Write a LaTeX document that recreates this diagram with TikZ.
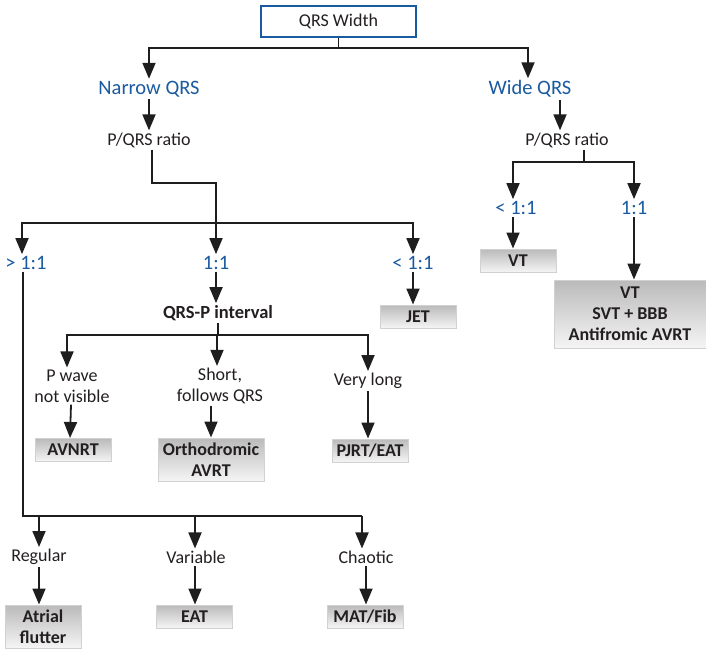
\documentclass[tikz,border=0pt]{standalone}
\usepackage{fontspec}
\setmainfont{Carlito}
\usepackage{xcolor}
\usetikzlibrary{arrows.meta}

\definecolor{qrsblue}{RGB}{26,90,160}
\definecolor{txtgray}{RGB}{35,31,32}
\definecolor{linegray}{RGB}{30,30,30}

\begin{document}
\begin{tikzpicture}[x=1pt, y=-1pt,
		topnode/.style={rectangle, draw=qrsblue, line width=2pt, minimum width=155pt, minimum height=31pt, font=\fontsize{18}{21}\selectfont, text=txtgray},
		bluenode/.style={font=\fontsize{20.5}{24}\selectfont, text=qrsblue, inner sep=2pt},
		plainnode/.style={font=\fontsize{18}{21}\selectfont, text=txtgray, align=center, inner sep=2pt},
		headnode/.style={plainnode, font=\fontsize{18.5}{21}\selectfont\bfseries},
		resnode/.style={rectangle, draw=black!18, line width=1pt, top color=black!27, bottom color=black!4, minimum width=76pt, minimum height=23pt, inner sep=0pt, align=center, font=\fontsize{18}{21}\selectfont\bfseries, text=txtgray},
		plainline/.style={line width=1.8pt, draw=linegray},
		arrline/.style={plainline, -{Triangle[width=13pt,length=16pt]}},
	]
		\useasboundingbox (0,0) rectangle (706,648);

		% nodes
		\node[topnode] (qrswidth) at (338.5,21.5) {QRS Width};
		\node[bluenode] (narrow) at (149,89) {Narrow QRS};
		\node[bluenode] (wide) at (530,89) {Wide QRS};
		\node[plainnode] (ratioN) at (149,140) {P/QRS ratio};
		\node[plainnode] (ratioW) at (567,140) {P/QRS ratio};

		\node[bluenode] (ltW) at (516,208) {< 1:1};
		\node[bluenode] (eqW) at (634,208) {1:1};
		\node[resnode] (vt) at (518,260.5) {VT};
		\node[resnode, minimum width=152pt, minimum height=68pt] (vtlist) at (630,314) {VT\\SVT + BBB\\Antifromic AVRT};

		\node[bluenode] (gtN) at (26,263) {> 1:1};
		\node[bluenode] (eqN) at (216,263) {1:1};
		\node[bluenode] (ltN) at (413,263) {< 1:1};
		\node[headnode] (qrsp) at (218,313) {QRS-P interval};
		\node[resnode] (jet) at (418,316.5) {JET};

		\node[plainnode] (pwave) at (72,386) {P wave\\not visible};
		\node[plainnode] (short) at (220,386) {Short,\\follows QRS};
		\node[plainnode] (vlong) at (368,381) {Very long};
		\node[resnode] (avnrt) at (73,450) {AVNRT};
		\node[resnode, minimum width=106pt, minimum height=43pt] (ortho) at (211,459.5) {Orthodromic\\AVRT};
		\node[resnode] (pjrt) at (370,450.5) {PJRT/EAT};

		\node[plainnode] (regular) at (39,557) {Regular};
		\node[plainnode] (variable) at (196,557) {Variable};
		\node[plainnode] (chaotic) at (366,557) {Chaotic};
		\node[resnode, minimum height=43pt] (atrial) at (43,626.5) {Atrial\\flutter};
		\node[resnode] (eat) at (194.5,616.5) {EAT};
		\node[resnode] (matfib) at (365,616.5) {MAT/Fib};

		% lines
		\draw[plainline] (qrswidth.south) -- ++(0,10) coordinate (splitT);
		\draw[arrline] (splitT) -| (narrow.north);
		\draw[arrline] (splitT) -| ([xshift=-2pt]wide.north);
		\draw[arrline] (narrow.south) -- (ratioN.north);
		\draw[arrline] ([xshift=30pt]wide.south) -- ([xshift=-7pt]ratioW.north);

		\draw[plainline] ([xshift=17pt]ratioW.south) -- ++(0,12) coordinate (splitW);
		\draw[arrline] (splitW) -| ([xshift=-3pt]ltW.north);
		\draw[arrline] (splitW) -| (eqW.north);
		\draw[arrline] ([xshift=-3pt]ltW.south) -- ([xshift=-5pt]vt.north);
		\draw[arrline] (eqW.south) -- ([xshift=4pt]vtlist.north);

		\draw[arrline] ([xshift=3pt]ratioN.south) -- ++(0,33) -| (eqN.north);
		\coordinate (splitN) at (eqN.north |- 0,223);
		\draw[arrline] (splitN) -| ([xshift=-4pt]gtN.north);
		\draw[arrline] (splitN) -| (ltN.north);
		\draw[arrline] (eqN.south) -- (eqN.south |- qrsp.north);
		\draw[arrline] (ltN.south) -- (ltN.south |- jet.north);

		\draw[plainline] (qrsp.south) -- (qrsp.south |- 0,335) coordinate (splitQ);
		\draw[arrline] (splitQ) -| ([xshift=-5pt]pwave.north);
		\draw[arrline] (splitQ) -| ([xshift=-3pt]short.north);
		\draw[arrline] (splitQ) -| (vlong.north);
		\draw[arrline] ([xshift=-1pt]pwave.south) -- ([xshift=-3pt]avnrt.north);
		\draw[arrline] ([xshift=-9pt]short.south) -- (ortho.north);
		\draw[arrline] (vlong.south) -- ([xshift=-2pt]pjrt.north);

		\draw[plainline] ([xshift=-3pt]gtN.south) |- ([xshift=-4pt]chaotic.north |- 0,516) coordinate (splitG);
		\draw[arrline] (regular.north |- splitG) -- (regular.north);
		\draw[arrline] ([xshift=-1pt]variable.north |- splitG) -- ([xshift=-1pt]variable.north);
		\draw[arrline] (splitG) -- ([xshift=-4pt]chaotic.north);
		\draw[arrline] (regular.south) -- (regular.south |- atrial.north);
		\draw[arrline] ([xshift=-1pt]variable.south) -- ([xshift=-1pt]variable.south |- eat.north);
		\draw[arrline] (chaotic.south) -- (chaotic.south |- matfib.north);
	\end{tikzpicture}
\end{document}
